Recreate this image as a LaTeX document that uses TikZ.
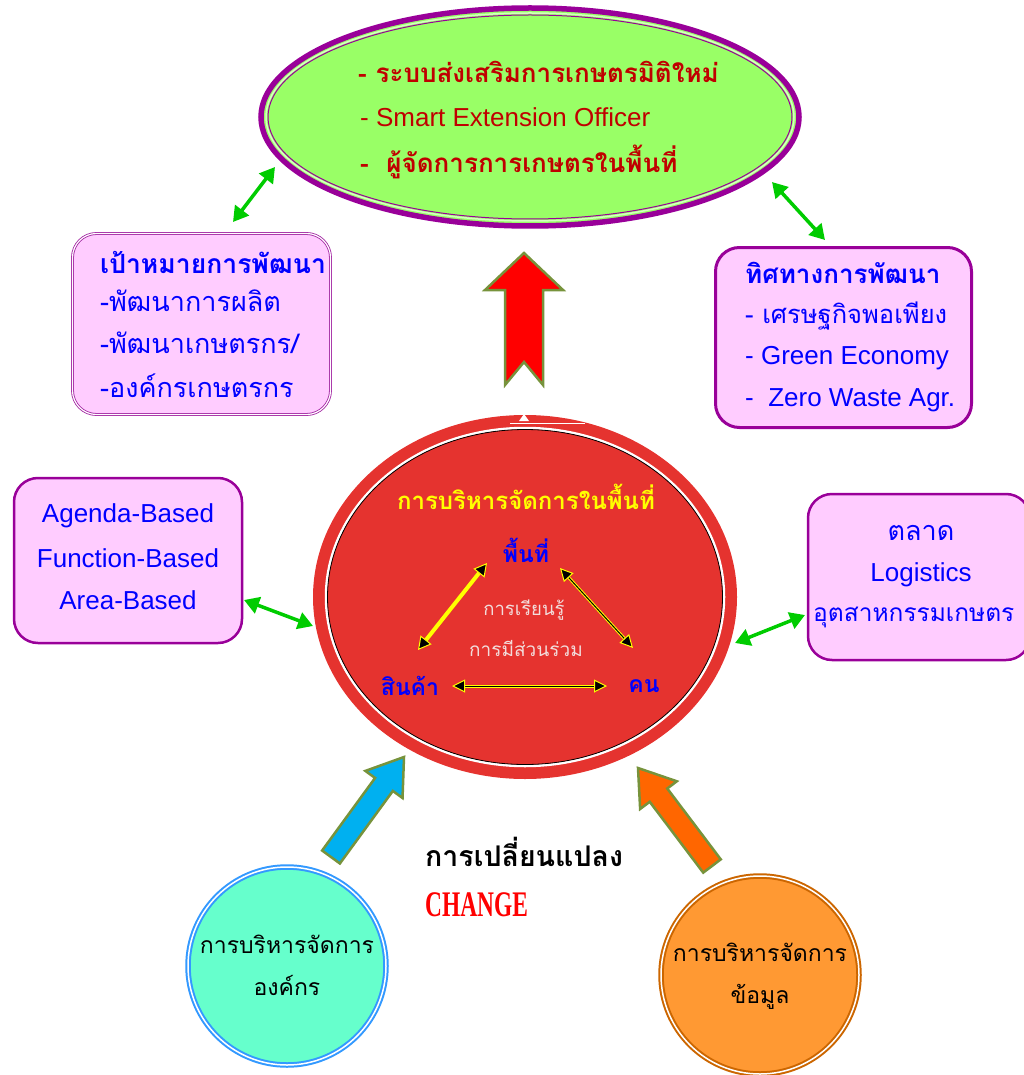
\documentclass[tikz,border=0pt]{standalone}
\usepackage{fontspec}
\setmainfont{Liberation Sans}
\newfontfamily\thai[Script=Thai]{Loma}
\newfontfamily\serifb{Liberation Serif}
\usetikzlibrary{calc,arrows.meta,shapes.geometric}
\definecolor{lgreen}{HTML}{99FF66}
\definecolor{epurple}{HTML}{990099}
\definecolor{pinkf}{HTML}{FFCCFF}
\definecolor{bpurple}{HTML}{A020A0}
\definecolor{btext}{HTML}{0000FF}
\definecolor{dred}{HTML}{C00000}
\definecolor{cred}{HTML}{E5332F}
\definecolor{ptext}{HTML}{F2DCDB}
\definecolor{garr}{HTML}{00CC00}
\definecolor{oliveb}{HTML}{77933C}
\definecolor{cyanf}{HTML}{00B0F0}
\definecolor{orarr}{HTML}{FF6600}
\definecolor{mint}{HTML}{66FFCC}
\definecolor{cblue}{HTML}{3399FF}
\definecolor{orfill}{HTML}{FF9933}
\definecolor{orbord}{HTML}{CC6600}
\definecolor{ylw}{HTML}{FFFF00}
\newcommand\fsz[1]{\fontsize{#1}{#1}\selectfont}
\newcommand\blockarr[7]{%
  \coordinate (hb) at ($(#2)!#5!(#1)$);
  \coordinate (nt) at ($(#1)!#6!(#2)$);
  \filldraw[fill=#7, draw=oliveb, line width=2.5pt, line join=miter]
    ($(#1)!#3!90:(#2)$) -- ($(hb)!#3!-90:(#1)$) -- ($(hb)!#4!-90:(#1)$) -- (#2)
    -- ($(hb)!#4!90:(#1)$) -- ($(hb)!#3!90:(#1)$) -- ($(#1)!#3!-90:(#2)$) -- (nt) -- cycle;}
\begin{document}
\begin{tikzpicture}[x=1pt,y=-1pt,
  pinkbox/.style={rounded corners=24pt, fill=pinkf, inner sep=0pt},
  garrow/.style={draw=garr, line width=3.5pt, {Triangle[length=15pt,width=17pt]}-{Triangle[length=15pt,width=17pt]}},
  inarrow/.style={line width=1pt, {Triangle[length=13pt,width=13pt,fill=black,color=ylw,line width=1pt]}-{Triangle[length=13pt,width=13pt,fill=black,color=ylw,line width=1pt]}},
  thtxt/.style={font=\thai\fsz{27}, inner sep=0pt},
  entxt/.style={font=\fsz{26}, inner sep=0pt},
]
\useasboundingbox (0,0) rectangle (1023,1075);

% top ellipse
\node[ellipse, minimum width=538pt, minimum height=218pt, fill=lgreen, draw=epurple, line width=5.5pt] (topE) at (530,117) {};
\draw[white!60!lgreen, line width=1.5pt] (topE.center) ellipse [x radius=264pt, y radius=104pt];
\draw[epurple, line width=1pt] (topE.center) ellipse [x radius=262pt, y radius=102pt];
\node[thtxt, font=\thai\bfseries\fsz{26}, text=dred, anchor=west] (t1) at (358,72) {- ระบบส่งเสริมการเกษตรมิติใหม่};
\node[entxt, text=dred, anchor=west] (t2) at (360,117) {- Smart Extension Officer};
\node[thtxt, font=\thai\bfseries\fsz{26}, text=dred, anchor=west] (t3) at (360,162) {-\ \ ผู้จัดการการเกษตรในพื้นที่};

% goal box
\node[pinkbox, draw=bpurple, line width=0.8pt, double=white, double distance=1.2pt, minimum width=258pt, minimum height=181pt] (goal) at (201.5,324) {};
\node[thtxt, font=\thai\bfseries\fsz{26.5}, text=btext, anchor=west] (g1) at (100,262) {เป้าหมายการพัฒนา};
\node[thtxt, text=btext, anchor=west] (g2) at (100,301) {-พัฒนาการผลิต};
\node[thtxt, text=btext, anchor=west] (g3) at (100,343) {-พัฒนาเกษตรกร/};
\node[thtxt, text=btext, anchor=west] (g4) at (100,386) {-องค์กรเกษตรกร};

% direction box
\node[pinkbox, draw=epurple, line width=3pt, minimum width=256pt, minimum height=180pt] (dir) at (843.5,337.5) {};
\node[thtxt, font=\thai\bfseries\fsz{26}, text=btext, anchor=west] (d1) at (745,273) {ทิศทางการพัฒนา};
\node[thtxt, font=\thai\fsz{25.5}, text=btext, anchor=west] (d2) at (745,316) {- เศรษฐกิจพอเพียง};
\node[entxt, text=btext, anchor=west] (d3) at (745,358) {- Green Economy};
\node[entxt, text=btext, anchor=west] (d4) at (745,400) {-\ \ Zero Waste Agr.};

% agenda box
\node[pinkbox, draw=epurple, line width=2.5pt, minimum width=228pt, minimum height=165pt] (agenda) at (128,560.5) {};
\node[entxt, text=btext] (a1) at (128,516) {Agenda-Based};
\node[entxt, text=btext] (a2) at (128,558) {Function-Based};
\node[entxt, text=btext] (a3) at (128,600) {Area-Based};

% market box
\node[pinkbox, draw=epurple, line width=2.5pt, minimum width=222pt, minimum height=166pt] (market) at (919,577) {};
\node[thtxt, text=btext] (m1) at (921,533) {ตลาด};
\node[entxt, text=btext] (m2) at (921,575) {Logistics};
\node[thtxt, font=\thai\fsz{24.5}, text=btext, anchor=west] (m3) at (813,617) {อุตสาหกรรมเกษตร};

% central ellipse
\node[ellipse, fill=cred, minimum width=424pt, minimum height=364pt, inner sep=0pt, outer sep=0pt] (core) at (525,597) {};
\draw[white, line width=2.5pt] (core.center) ellipse [x radius=199pt, y radius=169pt];
\draw[black, line width=0.8pt] (core.center) ellipse [x radius=197.5pt, y radius=167.5pt];
\draw[white, line width=1pt] (510,423) -- (585,423);
\fill[white] (519,421) -- (524,414) -- (529,421) -- cycle;
\node[thtxt, font=\thai\bfseries\fsz{24}, text=ylw] (c0) at (526,497) {การบริหารจัดการในพื้นที่};
\node[thtxt, font=\thai\bfseries\fsz{23}, text=btext] (area) at (526,550) {พื้นที่};
\node[thtxt, font=\thai\bfseries\fsz{23}, text=btext] (goods) at (410,686) {สินค้า};
\node[thtxt, font=\thai\bfseries\fsz{23}, text=btext] (people) at (644,686) {คน};
\node[thtxt, font=\thai\fsz{18.5}, text=ptext] (c1) at (524,610) {การเรียนรู้};
\node[thtxt, font=\thai\fsz{19}, text=ptext] (c2) at (526,648) {การมีส่วนร่วม};
\coordinate (ya) at (418,650); \coordinate (yb) at (487,563);
\draw[ylw, line width=4pt, {Triangle[length=13pt,width=14pt,fill=black,color=ylw,line width=1pt]}-{Triangle[length=13pt,width=14pt,fill=black,color=ylw,line width=1pt]}] (ya) -- (yb);
\coordinate (ra) at (560,568); \coordinate (rb) at (633,648);
\draw[ylw, line width=3pt, shorten <=8pt, shorten >=8pt] (ra) -- (rb);
\draw[black, inarrow] (ra) -- (rb);
\coordinate (ha) at (452,686); \coordinate (hbb) at (607,686);
\draw[ylw, line width=3pt, shorten <=8pt, shorten >=8pt] (ha) -- (hbb);
\draw[black, inarrow] (ha) -- (hbb);

% green arrows
\coordinate (gA) at (233,222); \coordinate (gB) at (275,167);
\draw[garrow] (gA) -- (gB);
\coordinate (gC) at (772,182); \coordinate (gD) at (825,240);
\draw[garrow] (gC) -- (gD);
\coordinate (gE) at (244,600); \coordinate (gF) at (313,626);
\draw[garrow] (gE) -- (gF);
\coordinate (gG) at (735,643); \coordinate (gH) at (805,615);
\draw[garrow] (gG) -- (gH);

% block arrows
\coordinate (rt) at (524,385); \coordinate (rh) at (524,253);
\blockarr{rt}{rh}{19pt}{39pt}{37pt}{23pt}{red}
\coordinate (bt) at (331,857); \coordinate (bh) at (404,757);
\blockarr{bt}{bh}{11pt}{23pt}{34pt}{0pt}{cyanf}
\coordinate (ot) at (712,866); \coordinate (oh) at (638,768);
\blockarr{ot}{oh}{11pt}{23pt}{34pt}{0pt}{orarr}

% change text
\node[thtxt, font=\thai\bfseries\fsz{28.5}, anchor=west] (chg) at (425,852) {การเปลี่ยนแปลง};
\node[inner sep=0pt, font=\serifb\bfseries\fsz{36}, text=red, anchor=west] (chgen) at (425,905) {\scalebox{0.65}[1]{CHANGE}};

% bottom circles
\node[circle, minimum size=198pt, fill=mint, draw=cblue, line width=2pt, double=white, double distance=1.5pt] (org) at (287,966) {};
\node[thtxt, font=\thai\fsz{23}] (o1) at (287,944) {การบริหารจัดการ};
\node[thtxt, font=\thai\fsz{23}] (o2) at (287,985) {องค์กร};
\node[circle, minimum size=198pt, fill=orfill, draw=orbord, line width=2pt, double=white, double distance=1.5pt] (data) at (760,975) {};
\node[thtxt, font=\thai\fsz{23}] (i1) at (760,952) {การบริหารจัดการ};
\node[thtxt, font=\thai\fsz{23}] (i2) at (760,997) {ข้อมูล};
\end{tikzpicture}
\end{document}
